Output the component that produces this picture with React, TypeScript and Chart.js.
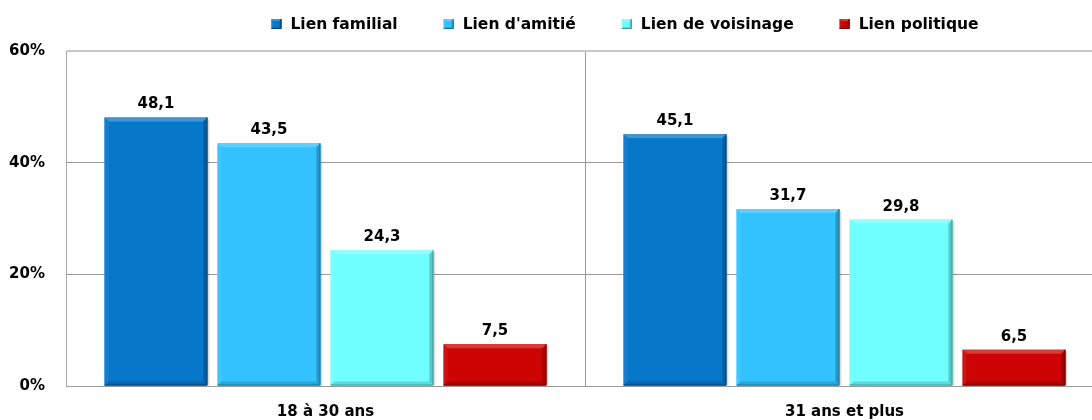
import React, { useEffect, useRef } from "react";
import { Chart, registerables } from "chart.js";

Chart.register(...registerables);

// ---- data ----
const categories = ["18 à 30 ans", "31 ans et plus"];
const seriesNames = ["Lien familial", "Lien d'amitié", "Lien de voisinage", "Lien politique"];
const familial = [48.1, 45.1];
const amitie = [43.5, 31.7];
const voisinage = [24.3, 29.8];
const politique = [7.5, 6.5];
const yTicks = [0, 20, 40, 60];
const seriesValues = [familial, amitie, voisinage, politique];
const seriesColors = ["#0777CA", "#32C3FE", "#6FFFFF", "#CC0404"];

const FONT = "'DejaVu Sans', 'Liberation Sans', sans-serif";

function mix(hex: string, target: number, amt: number) {
  const n = parseInt(hex.slice(1), 16);
  const r = (n >> 16) & 255, g = (n >> 8) & 255, b = n & 255;
  const f = (c: number) => Math.round(c + (target - c) * amt);
  return `rgb(${f(r)},${f(g)},${f(b)})`;
}

function bevelRect(ctx: CanvasRenderingContext2D, x0: number, y0: number, x1: number, y1: number, color: string, b: number) {
  ctx.save();
  // top
  ctx.fillStyle = mix(color, 255, 0.22);
  ctx.beginPath();
  ctx.moveTo(x0, y0); ctx.lineTo(x1, y0); ctx.lineTo(x1 - b, y0 + b); ctx.lineTo(x0 + b, y0 + b); ctx.closePath(); ctx.fill();
  // left
  ctx.fillStyle = mix(color, 255, 0.06);
  ctx.beginPath();
  ctx.moveTo(x0, y0); ctx.lineTo(x0 + b, y0 + b); ctx.lineTo(x0 + b, y1 - b); ctx.lineTo(x0, y1); ctx.closePath(); ctx.fill();
  // right
  ctx.fillStyle = mix(color, 0, 0.22);
  ctx.beginPath();
  ctx.moveTo(x1, y0); ctx.lineTo(x1, y1); ctx.lineTo(x1 - b, y1 - b); ctx.lineTo(x1 - b, y0 + b); ctx.closePath(); ctx.fill();
  // bottom
  ctx.fillStyle = mix(color, 0, 0.15);
  ctx.beginPath();
  ctx.moveTo(x0, y1); ctx.lineTo(x1, y1); ctx.lineTo(x1 - b, y1 - b); ctx.lineTo(x0 + b, y1 - b); ctx.closePath(); ctx.fill();
  // right/bottom dark edge
  ctx.strokeStyle = mix(color, 0, 0.4);
  ctx.lineWidth = 1;
  ctx.beginPath();
  ctx.moveTo(x1 - 0.5, y0); ctx.lineTo(x1 - 0.5, y1 - 0.5); ctx.lineTo(x0, y1 - 0.5);
  ctx.stroke();
  ctx.restore();
}

const barStylePlugin = {
  id: "barStyle",
  beforeDatasetsDraw(chart: any) {
    const ctx = chart.ctx;
    ctx.save();
    chart.data.datasets.forEach((_: any, di: number) => {
      const meta = chart.getDatasetMeta(di);
      meta.data.forEach((el: any) => {
        const { x, y, base, width } = el.getProps(["x", "y", "base", "width"], true);
        ctx.fillStyle = "rgba(0,0,0,0.14)";
        ctx.fillRect(x - width / 2 + 2, y + 2, width, base - y - 2);
      });
    });
    ctx.restore();
  },
  afterDatasetsDraw(chart: any) {
    const ctx = chart.ctx;
    chart.data.datasets.forEach((ds: any, di: number) => {
      const meta = chart.getDatasetMeta(di);
      meta.data.forEach((el: any, i: number) => {
        const { x, y, base, width } = el.getProps(["x", "y", "base", "width"], true);
        bevelRect(ctx, x - width / 2, y, x + width / 2, base, seriesColors[di], 4);
        const v = ds.data[i] as number;
        ctx.save();
        ctx.fillStyle = "#000";
        ctx.font = `bold 15px ${FONT}`;
        ctx.textAlign = "center";
        ctx.textBaseline = "middle";
        ctx.fillText(v.toFixed(1).replace(".", ","), x, y - 13);
        ctx.restore();
      });
    });
  },
};

const legendPlugin = {
  id: "customLegend",
  afterDraw(chart: any) {
    const ctx = chart.ctx;
    ctx.save();
    ctx.font = `bold 15.5px ${FONT}`;
    const box = 10, gapText = 9, gapItem = 46;
    const items = chart.data.datasets.map((ds: any, i: number) => ({
      text: ds.label as string,
      color: seriesColors[i],
      w: ctx.measureText(ds.label).width,
    }));
    const total = items.reduce((s: number, it: any) => s + box + gapText + it.w, 0) + gapItem * (items.length - 1);
    const cx = 617;
    const cy = 16;
    let x = cx - total / 2;
    items.forEach((it: any) => {
      ctx.fillStyle = it.color;
      ctx.fillRect(x, cy - box / 2, box, box);
      bevelRect(ctx, x, cy - box / 2, x + box, cy + box / 2, it.color, 2);
      ctx.fillStyle = "#000";
      ctx.textAlign = "left";
      ctx.textBaseline = "middle";
      ctx.fillText(it.text, x + box + gapText, cy + 1);
      x += box + gapText + it.w + gapItem;
    });
    ctx.restore();
  },
};

export default function App() {
  const ref = useRef<HTMLCanvasElement | null>(null);
  useEffect(() => {
    if (!ref.current) return;
    const chart = new Chart(ref.current, {
      type: "bar",
      data: {
        labels: categories,
        datasets: seriesNames.map((name, i) => ({
          label: name,
          data: seriesValues[i],
          backgroundColor: seriesColors[i],
          borderWidth: 0,
          categoryPercentage: 0.871,
          barPercentage: 0.91,
        })),
      },
      options: {
        responsive: false,
        animation: false,
        devicePixelRatio: 1,
        layout: { padding: { top: 43, right: 4, left: 0, bottom: 0 } },
        plugins: {
          legend: { display: false },
          tooltip: { enabled: false },
        },
        scales: {
          x: {
            afterFit: (axis: any) => {
              axis.height = 35;
            },
            grid: { offset: true, color: "#999999", drawTicks: false, lineWidth: 1 },
            border: { color: "#999999" },
            ticks: {
              padding: 17,
              color: "#000",
              font: { family: FONT, size: 15, weight: "bold" },
            },
          },
          y: {
            min: 0,
            max: 60,
            afterFit: (axis: any) => {
              axis.width = 58;
            },
            afterBuildTicks: (axis: any) => {
              axis.ticks = yTicks.map((v) => ({ value: v }));
            },
            grid: {
              drawTicks: false,
              color: (c: any) => (c.tick && c.tick.value === 60 ? "#c8c8c8" : "#999999"),
              lineWidth: (c: any) => (c.tick && c.tick.value === 60 ? 2 : 1),
            },
            border: { color: "#a6a6a6" },
            ticks: {
              padding: 21,
              color: "#000",
              font: { family: FONT, size: 15, weight: "bold" },
              callback: (v: any) => `${v}%`,
            },
          },
        },
      },
      plugins: [barStylePlugin, legendPlugin],
    });
    return () => chart.destroy();
  }, []);

  return (
    <div style={{ position: "fixed", left: 8, top: 8, width: 1084, height: 412, overflow: "hidden", background: "#fff" }}>
      <canvas ref={ref} width={1100} height={413} style={{ display: "block", width: 1100, height: 413 }} />
    </div>
  );
}
